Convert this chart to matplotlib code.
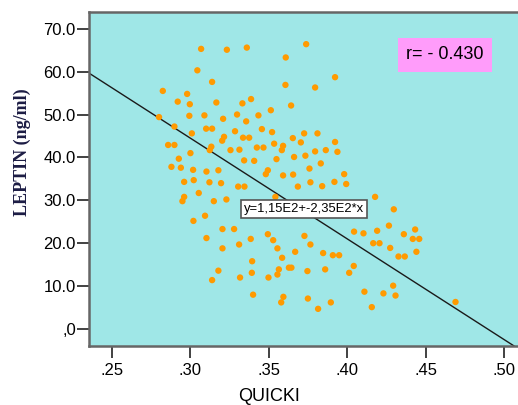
import matplotlib
matplotlib.use("Agg")
import matplotlib.pyplot as plt
import numpy as np

# QUICKI / leptin values
quicki = [
    0.3069, 0.3233, 0.3360, 0.3738, 0.3608, 0.3045, 0.3922, 0.3139, 0.3606, 0.3795,
    0.2825, 0.2980, 0.3387, 0.2920, 0.3166, 0.3332, 0.2997, 0.3642, 0.3513, 0.2801,
    0.2994, 0.3090, 0.3209, 0.3298, 0.3356, 0.3434, 0.2899, 0.3101, 0.3139, 0.3456,
    0.3010, 0.3285, 0.3521, 0.3725, 0.3810, 0.3215, 0.3203, 0.3336, 0.3375, 0.3653,
    0.3704, 0.3922, 0.3534, 0.2859, 0.2899, 0.3134, 0.3124, 0.3424, 0.3466, 0.3591,
    0.3583, 0.3001, 0.3256, 0.3313, 0.3795, 0.3863, 0.3937, 0.2927, 0.3661, 0.3733,
    0.3343, 0.3407, 0.3549, 0.3831, 0.2880, 0.2940, 0.3018, 0.3103, 0.3179, 0.3494,
    0.3481, 0.3759, 0.3591, 0.3655, 0.3980, 0.2961, 0.3022, 0.3122, 0.3196, 0.3305,
    0.3345, 0.3685, 0.3765, 0.3840, 0.3918, 0.3993, 0.2961, 0.2950, 0.3054, 0.3150,
    0.3230, 0.3542, 0.4177, 0.4296, 0.3020, 0.3094, 0.3205, 0.3279, 0.3103, 0.3205,
    0.3311, 0.3385, 0.3394, 0.3392, 0.3179, 0.3139, 0.3317, 0.3400, 0.3494, 0.3528,
    0.3555, 0.3585, 0.3727, 0.3765, 0.3668, 0.3846, 0.3908, 0.3948, 0.4043, 0.4103,
    0.4041, 0.4012, 0.3564, 0.3555, 0.3628, 0.3644, 0.3746, 0.3859, 0.3498, 0.3593,
    0.3579, 0.3749, 0.3814, 0.3895, 0.4109, 0.4190, 0.4165, 0.4205, 0.4265, 0.4273,
    0.4360, 0.4432, 0.4417, 0.4458, 0.4440, 0.4326, 0.4366, 0.4230, 0.4292, 0.4307,
    0.4156, 0.4689,
]
leptin = [
    65.3, 65.1, 65.6, 66.4, 63.3, 60.3, 58.7, 57.6, 56.9, 56.3,
    55.5, 54.8, 53.6, 53.0, 52.8, 52.6, 52.4, 52.1, 51.0, 49.4,
    49.7, 49.8, 49.0, 50.0, 48.4, 49.8, 47.2, 46.7, 46.7, 46.6,
    45.6, 46.1, 45.9, 45.6, 45.6, 44.8, 43.9, 44.6, 44.6, 44.5,
    43.5, 43.6, 43.2, 42.9, 42.9, 42.5, 41.7, 42.3, 42.3, 42.7,
    41.7, 41.0, 41.7, 41.8, 41.4, 41.7, 41.3, 39.7, 40.1, 40.4,
    39.3, 39.2, 39.6, 38.6, 37.8, 37.6, 37.1, 36.7, 37.0, 37.0,
    36.1, 37.4, 35.8, 36.0, 36.1, 34.3, 34.7, 34.2, 34.0, 33.2,
    33.2, 33.2, 34.2, 33.3, 34.3, 33.8, 30.8, 29.8, 31.7, 29.8,
    30.2, 30.8, 30.8, 27.9, 25.2, 26.4, 23.3, 23.3, 21.2, 18.8,
    19.7, 21.0, 15.8, 13.1, 13.6, 11.4, 12.0, 8.0, 22.1, 20.7,
    18.8, 16.6, 21.7, 19.7, 18.0, 17.7, 17.2, 17.2, 22.7, 22.3,
    14.7, 13.1, 13.9, 12.7, 14.3, 14.3, 13.5, 13.9, 12.0, 7.5,
    6.2, 7.1, 4.7, 6.2, 8.7, 22.9, 20.0, 20.0, 24.1, 18.9,
    22.1, 23.2, 21.0, 21.0, 18.0, 16.9, 16.9, 8.3, 10.1, 7.8,
    5.1, 6.3,
]

intercept = 115.0
slope = -235.0
r_text = "r= - 0.430"
fit_text = "y=1,15E2+-2,35E2*x"

x_ticks = [0.25, 0.30, 0.35, 0.40, 0.45, 0.50]
x_ticklabels = [".25", ".30", ".35", ".40", ".45", ".50"]
y_ticks = [0, 10, 20, 30, 40, 50, 60, 70]
y_ticklabels = [",0", "10.0", "20.0", "30.0", "40.0", "50.0", "60.0", "70.0"]

plt.rcParams["font.family"] = ["Liberation Sans", "DejaVu Sans"]

fig = plt.figure(figsize=(5.18, 4.05), dpi=100)
ax = fig.add_axes([0.1718, 0.1457, 0.8282, 0.8247])
ax.set_facecolor("#9fe7e7")

ax.scatter(quicki, leptin, s=21, color="#ff9a00", edgecolors="none", zorder=3)

xs = np.array([0.2, 0.6])
ax.plot(xs, intercept + slope * xs, color="#1a1a1a", linewidth=1.0, zorder=2)

ax.set_xlim(0.2355, 0.5087)
ax.set_ylim(-3.96, 73.9)
ax.set_xticks(x_ticks)
ax.set_xticklabels(x_ticklabels)
ax.set_yticks(y_ticks)
ax.set_yticklabels(y_ticklabels)
ax.tick_params(axis="both", direction="out", length=8.5, width=1.3,
               color="#333333", labelsize=12, labelcolor="black")
ax.tick_params(axis="y", pad=1)
ax.tick_params(axis="x", pad=3.5)

for side in ["left", "bottom", "top"]:
    ax.spines[side].set_color("#666666")
    ax.spines[side].set_linewidth(1.8)
ax.spines["right"].set_visible(False)

ax.set_xlabel("QUICKI", fontsize=13)
ax.xaxis.set_label_coords(0.42, -0.125)
ax.set_ylabel("LEPTIN (ng/ml)", fontsize=13, fontweight="bold",
              family=["Liberation Serif", "DejaVu Serif"], color="#1c1c44")
ax.yaxis.set_label_coords(-0.135, 0.58)

ax.text(0.4623, 63.9, r_text, fontsize=13, ha="center", va="center", zorder=5,
        bbox=dict(boxstyle="square,pad=0.45", facecolor="#ff9cfa", edgecolor="none"))

ax.text(0.3725, 28.0, fit_text, fontsize=9.4, ha="center", va="center",
        zorder=5, bbox=dict(boxstyle="square,pad=0.25", facecolor="white",
                            edgecolor="#555555", linewidth=1.2))

fig.savefig("out.png", dpi=100)
